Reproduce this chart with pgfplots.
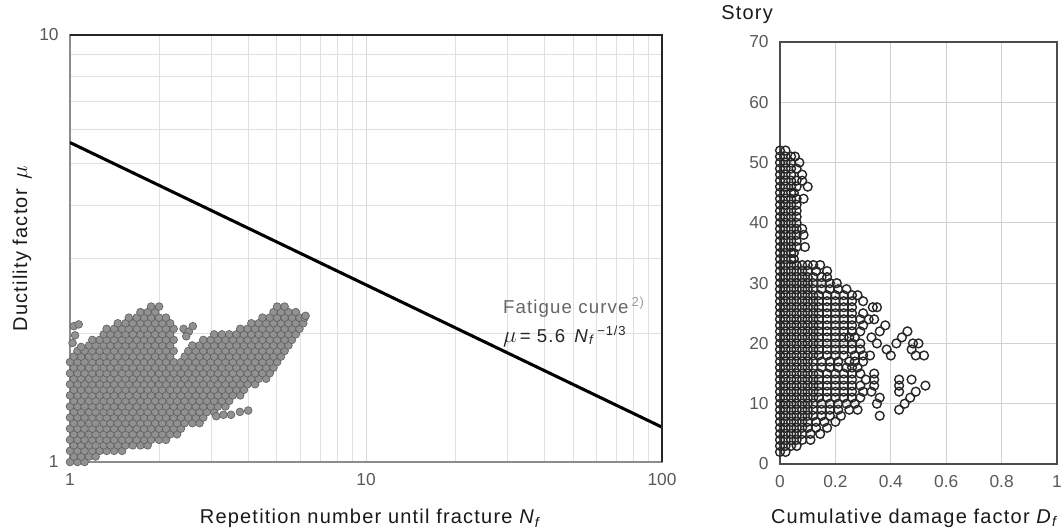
\documentclass[border=0pt]{standalone}
\usepackage{pgfplots}
\pgfplotsset{compat=1.18}
\usepackage{fontspec}
\setmainfont{Liberation Sans}
\newfontfamily\lblfont{Liberation Sans}[LetterSpace=6]
\begin{document}
\begin{tikzpicture}
\path[use as bounding box] (0,0) rectangle (798pt,399pt);
\pgfplotsset{
  lpt/.style={only marks, mark=*, mark size=2.9pt, mark options={fill=black!43, draw=black!62, line width=0.5pt}},
  rpt/.style={only marks, mark=o, mark size=3.3pt, mark options={draw=black!85, line width=1.05pt}},
}
\begin{axis}[
  name=L,
  at={(52.5pt,52.5pt)}, anchor=south west, scale only axis,
  width=444pt, height=320.25pt,
  xmode=log, ymode=log, xmin=1, xmax=100, ymin=1, ymax=10,
  xtick={1,10,100}, xticklabels={1,10,100},
  ytick={1,10}, yticklabels={1,10},
  grid=both,
  major grid style={draw=black!15, line width=0.6pt},
  minor grid style={draw=black!12, line width=0.6pt},
  tick style={draw=none},
  axis line style={draw=black!45, line width=0.9pt},
  ticklabel style={font=\fontsize{13}{15}\selectfont, text=black!65},
  xticklabel style={yshift=-5pt}, yticklabel style={xshift=-5pt},
  every axis x label/.style={at={(rel axis cs:0.508,-0.133)}, anchor=center},
  every axis y label/.style={at={(rel axis cs:-0.081,0.5)}, rotate=90, anchor=center},
  label style={font=\lblfont\fontsize{15}{17}\selectfont, text=black!90},
  xlabel={Repetition number until fracture \textit{N}\textsubscript{\textit{f}}},
  ylabel={Ductility factor \,{\fontsize{19}{19}\selectfont$\mu$}},
]
\addplot[lpt] coordinates {(1.00,1.000)(1.06,1.000)(1.12,1.000)};
\addplot[lpt] coordinates {(1.03,1.030)(1.09,1.030)(1.16,1.030)(1.22,1.030)};
\addplot[lpt] coordinates {(1.00,1.062)(1.06,1.062)(1.12,1.062)(1.19,1.062)(1.26,1.062)(1.33,1.062)(1.41,1.062)(1.50,1.062)};
\addplot[lpt] coordinates {(1.03,1.094)(1.09,1.094)(1.16,1.094)(1.22,1.094)(1.30,1.094)(1.37,1.094)(1.45,1.094)(1.54,1.094)(1.63,1.094)(1.73,1.094)(1.83,1.094)};
\addplot[lpt] coordinates {(1.00,1.127)(1.06,1.127)(1.12,1.127)(1.19,1.127)(1.26,1.127)(1.33,1.127)(1.41,1.127)(1.50,1.127)(1.58,1.127)(1.68,1.127)(1.78,1.127)(1.88,1.127)(2.00,1.127)(2.11,1.127)};
\addplot[lpt] coordinates {(1.03,1.161)(1.09,1.161)(1.16,1.161)(1.22,1.161)(1.30,1.161)(1.37,1.161)(1.45,1.161)(1.54,1.161)(1.63,1.161)(1.73,1.161)(1.83,1.161)(1.94,1.161)(2.05,1.161)(2.18,1.161)(2.30,1.161)};
\addplot[lpt] coordinates {(1.00,1.197)(1.06,1.197)(1.12,1.197)(1.19,1.197)(1.26,1.197)(1.33,1.197)(1.41,1.197)(1.50,1.197)(1.58,1.197)(1.68,1.197)(1.78,1.197)(1.88,1.197)(2.00,1.197)(2.11,1.197)(2.24,1.197)(2.37,1.197)};
\addplot[lpt] coordinates {(1.03,1.233)(1.09,1.233)(1.16,1.233)(1.22,1.233)(1.30,1.233)(1.37,1.233)(1.45,1.233)(1.54,1.233)(1.63,1.233)(1.73,1.233)(1.83,1.233)(1.94,1.233)(2.05,1.233)(2.18,1.233)(2.30,1.233)(2.44,1.233)(2.59,1.233)(2.74,1.233)};
\addplot[lpt] coordinates {(1.00,1.271)(1.06,1.271)(1.12,1.271)(1.19,1.271)(1.26,1.271)(1.33,1.271)(1.41,1.271)(1.50,1.271)(1.58,1.271)(1.68,1.271)(1.78,1.271)(1.88,1.271)(2.00,1.271)(2.11,1.271)(2.24,1.271)(2.37,1.271)(2.51,1.271)(2.66,1.271)(2.82,1.271)};
\addplot[lpt] coordinates {(1.03,1.309)(1.09,1.309)(1.16,1.309)(1.22,1.309)(1.30,1.309)(1.37,1.309)(1.45,1.309)(1.54,1.309)(1.63,1.309)(1.73,1.309)(1.83,1.309)(1.94,1.309)(2.05,1.309)(2.18,1.309)(2.30,1.309)(2.44,1.309)(2.59,1.309)(2.74,1.309)(2.90,1.309)(3.07,1.309)};
\addplot[lpt] coordinates {(1.00,1.349)(1.06,1.349)(1.12,1.349)(1.19,1.349)(1.26,1.349)(1.33,1.349)(1.41,1.349)(1.50,1.349)(1.58,1.349)(1.68,1.349)(1.78,1.349)(1.88,1.349)(2.00,1.349)(2.11,1.349)(2.24,1.349)(2.37,1.349)(2.51,1.349)(2.66,1.349)(2.82,1.349)(2.99,1.349)(3.16,1.349)(3.35,1.349)};
\addplot[lpt] coordinates {(1.03,1.390)(1.09,1.390)(1.16,1.390)(1.22,1.390)(1.30,1.390)(1.37,1.390)(1.45,1.390)(1.54,1.390)(1.63,1.390)(1.73,1.390)(1.83,1.390)(1.94,1.390)(2.05,1.390)(2.18,1.390)(2.30,1.390)(2.44,1.390)(2.59,1.390)(2.74,1.390)(2.90,1.390)(3.07,1.390)(3.26,1.390)(3.45,1.390)};
\addplot[lpt] coordinates {(1.00,1.432)(1.06,1.432)(1.12,1.432)(1.19,1.432)(1.26,1.432)(1.33,1.432)(1.41,1.432)(1.50,1.432)(1.58,1.432)(1.68,1.432)(1.78,1.432)(1.88,1.432)(2.00,1.432)(2.11,1.432)(2.24,1.432)(2.37,1.432)(2.51,1.432)(2.66,1.432)(2.82,1.432)(2.99,1.432)(3.16,1.432)(3.35,1.432)(3.55,1.432)(3.76,1.432)};
\addplot[lpt] coordinates {(1.03,1.476)(1.09,1.476)(1.16,1.476)(1.22,1.476)(1.30,1.476)(1.37,1.476)(1.45,1.476)(1.54,1.476)(1.63,1.476)(1.73,1.476)(1.83,1.476)(1.94,1.476)(2.05,1.476)(2.18,1.476)(2.30,1.476)(2.44,1.476)(2.59,1.476)(2.74,1.476)(2.90,1.476)(3.07,1.476)(3.26,1.476)(3.45,1.476)(3.65,1.476)(3.87,1.476)};
\addplot[lpt] coordinates {(1.00,1.521)(1.06,1.521)(1.12,1.521)(1.19,1.521)(1.26,1.521)(1.33,1.521)(1.41,1.521)(1.50,1.521)(1.58,1.521)(1.68,1.521)(1.78,1.521)(1.88,1.521)(2.00,1.521)(2.11,1.521)(2.24,1.521)(2.37,1.521)(2.51,1.521)(2.66,1.521)(2.82,1.521)(2.99,1.521)(3.16,1.521)(3.35,1.521)(3.55,1.521)(3.76,1.521)(3.98,1.521)(4.22,1.521)};
\addplot[lpt] coordinates {(1.03,1.567)(1.09,1.567)(1.16,1.567)(1.22,1.567)(1.30,1.567)(1.37,1.567)(1.45,1.567)(1.54,1.567)(1.63,1.567)(1.73,1.567)(1.83,1.567)(1.94,1.567)(2.05,1.567)(2.18,1.567)(2.30,1.567)(2.44,1.567)(2.59,1.567)(2.74,1.567)(2.90,1.567)(3.07,1.567)(3.26,1.567)(3.45,1.567)(3.65,1.567)(3.87,1.567)(4.10,1.567)(4.34,1.567)(4.60,1.567)};
\addplot[lpt] coordinates {(1.00,1.614)(1.06,1.614)(1.12,1.614)(1.19,1.614)(1.26,1.614)(1.33,1.614)(1.41,1.614)(1.50,1.614)(1.58,1.614)(1.68,1.614)(1.78,1.614)(1.88,1.614)(2.00,1.614)(2.11,1.614)(2.24,1.614)(2.37,1.614)(2.51,1.614)(2.66,1.614)(2.82,1.614)(2.99,1.614)(3.16,1.614)(3.35,1.614)(3.55,1.614)(3.76,1.614)(3.98,1.614)(4.22,1.614)(4.47,1.614)(4.73,1.614)};
\addplot[lpt] coordinates {(1.03,1.663)(1.09,1.663)(1.16,1.663)(1.22,1.663)(1.30,1.663)(1.37,1.663)(1.45,1.663)(1.54,1.663)(1.63,1.663)(1.73,1.663)(1.83,1.663)(1.94,1.663)(2.05,1.663)(2.18,1.663)(2.30,1.663)(2.44,1.663)(2.59,1.663)(2.74,1.663)(2.90,1.663)(3.07,1.663)(3.26,1.663)(3.45,1.663)(3.65,1.663)(3.87,1.663)(4.10,1.663)(4.34,1.663)(4.60,1.663)(4.87,1.663)};
\addplot[lpt] coordinates {(1.00,1.714)(1.06,1.714)(1.12,1.714)(1.19,1.714)(1.26,1.714)(1.33,1.714)(1.41,1.714)(1.50,1.714)(1.58,1.714)(1.68,1.714)(1.78,1.714)(1.88,1.714)(2.00,1.714)(2.11,1.714)(2.24,1.714)(2.37,1.714)(2.51,1.714)(2.66,1.714)(2.82,1.714)(2.99,1.714)(3.16,1.714)(3.35,1.714)(3.55,1.714)(3.76,1.714)(3.98,1.714)(4.22,1.714)(4.47,1.714)(4.73,1.714)(5.01,1.714)};
\addplot[lpt] coordinates {(1.03,1.766)(1.09,1.766)(1.16,1.766)(1.22,1.766)(1.30,1.766)(1.37,1.766)(1.45,1.766)(1.54,1.766)(1.63,1.766)(1.73,1.766)(1.83,1.766)(1.94,1.766)(2.05,1.766)(2.18,1.766)(2.44,1.766)(2.59,1.766)(2.74,1.766)(2.90,1.766)(3.07,1.766)(3.26,1.766)(3.45,1.766)(3.65,1.766)(3.87,1.766)(4.10,1.766)(4.34,1.766)(4.60,1.766)(4.87,1.766)(5.16,1.766)};
\addplot[lpt] coordinates {(1.06,1.820)(1.12,1.820)(1.19,1.820)(1.26,1.820)(1.33,1.820)(1.41,1.820)(1.50,1.820)(1.58,1.820)(1.68,1.820)(1.78,1.820)(1.88,1.820)(2.00,1.820)(2.11,1.820)(2.24,1.820)(2.51,1.820)(2.66,1.820)(2.82,1.820)(2.99,1.820)(3.16,1.820)(3.35,1.820)(3.55,1.820)(3.76,1.820)(3.98,1.820)(4.22,1.820)(4.47,1.820)(4.73,1.820)(5.01,1.820)(5.31,1.820)};
\addplot[lpt] coordinates {(1.16,1.875)(1.22,1.875)(1.30,1.875)(1.37,1.875)(1.45,1.875)(1.54,1.875)(1.63,1.875)(1.73,1.875)(1.83,1.875)(1.94,1.875)(2.05,1.875)(2.18,1.875)(2.59,1.875)(2.74,1.875)(2.90,1.875)(3.07,1.875)(3.26,1.875)(3.45,1.875)(3.65,1.875)(3.87,1.875)(4.10,1.875)(4.34,1.875)(4.60,1.875)(4.87,1.875)(5.16,1.875)(5.47,1.875)};
\addplot[lpt] coordinates {(1.19,1.932)(1.26,1.932)(1.33,1.932)(1.41,1.932)(1.50,1.932)(1.58,1.932)(1.68,1.932)(1.78,1.932)(1.88,1.932)(2.00,1.932)(2.11,1.932)(2.24,1.932)(2.82,1.932)(2.99,1.932)(3.16,1.932)(3.35,1.932)(3.55,1.932)(3.76,1.932)(3.98,1.932)(4.22,1.932)(4.47,1.932)(4.73,1.932)(5.01,1.932)(5.31,1.932)(5.62,1.932)};
\addplot[lpt] coordinates {(1.30,1.991)(1.37,1.991)(1.45,1.991)(1.54,1.991)(1.63,1.991)(1.73,1.991)(1.83,1.991)(1.94,1.991)(2.05,1.991)(2.18,1.991)(3.07,1.991)(3.26,1.991)(3.45,1.991)(3.65,1.991)(3.87,1.991)(4.10,1.991)(4.34,1.991)(4.60,1.991)(4.87,1.991)(5.16,1.991)(5.47,1.991)(5.79,1.991)};
\addplot[lpt] coordinates {(1.33,2.051)(1.41,2.051)(1.50,2.051)(1.58,2.051)(1.68,2.051)(1.78,2.051)(1.88,2.051)(2.00,2.051)(2.11,2.051)(2.24,2.051)(3.76,2.051)(3.98,2.051)(4.22,2.051)(4.47,2.051)(4.73,2.051)(5.01,2.051)(5.31,2.051)(5.62,2.051)(5.96,2.051)};
\addplot[lpt] coordinates {(1.45,2.113)(1.54,2.113)(1.63,2.113)(1.73,2.113)(1.83,2.113)(1.94,2.113)(2.05,2.113)(2.18,2.113)(4.10,2.113)(4.34,2.113)(4.60,2.113)(4.87,2.113)(5.16,2.113)(5.47,2.113)(5.79,2.113)(6.14,2.113)};
\addplot[lpt] coordinates {(1.58,2.178)(1.68,2.178)(1.78,2.178)(1.88,2.178)(2.00,2.178)(2.11,2.178)(4.47,2.178)(4.73,2.178)(5.01,2.178)(5.31,2.178)(5.62,2.178)(5.96,2.178)(6.20,2.178)};
\addplot[lpt] coordinates {(1.73,2.244)(1.83,2.244)(1.94,2.244)(4.87,2.244)(5.16,2.244)(5.47,2.244)(5.79,2.244)};
\addplot[lpt] coordinates {(1.88,2.312)(2.00,2.312)(5.01,2.312)(5.31,2.312)};
\addplot[lpt] coordinates {(1.03,2.08)(1.07,2.10)(1.04,1.98)(1.02,1.90)(1.09,1.86)(2.42,2.05)(2.52,2.02)(2.60,2.08)(2.47,1.97)(3.12,1.28)(3.30,1.29)(3.50,1.29)(3.75,1.31)(4.00,1.32)(6.25,2.20)};
\addplot[black, line width=2.3pt] coordinates {(1,5.6) (100,1.2066)};
\node[anchor=base west, text=black!60, font=\lblfont\fontsize{14}{16}\selectfont] at (axis cs:28.0,2.222) {Fatigue curve\,\textsuperscript{\textcolor{black!40}{2)}}};
\node[anchor=base west, text=black!85, font=\lblfont\fontsize{14}{16}\selectfont] at (axis cs:28.0,1.91) {{\fontsize{18}{18}\selectfont$\mu$}\,= 5.6\enspace\textit{N}\textsubscript{\textit{f}}\textsuperscript{\,−1/3}};
\end{axis}
\draw[black!85, line width=0.9pt] (L.north west) -- (L.north east) -- (L.south east);
\begin{axis}[
  name=R,
  at={(585pt,51pt)}, anchor=south west, scale only axis,
  width=207.75pt, height=316.5pt,
  xmin=0, xmax=1, ymin=0, ymax=70,
  xtick={0,0.2,0.4,0.6,0.8,1}, ytick={0,10,20,30,40,50,60,70},
  grid=major, major grid style={draw=black!18, line width=0.8pt},
  tick style={draw=none},
  axis line style={draw=black!70, line width=0.9pt},
  /pgf/number format/assume math mode=true,
  ticklabel style={font=\fontsize{13}{15}\selectfont, text=black!65},
  xticklabel style={yshift=-5pt}, yticklabel style={xshift=-5pt},
  clip=false,
  every axis x label/.style={at={(rel axis cs:0.487,-0.128)}, anchor=center},
  every axis y label/.style={at={(rel axis cs:-0.119,1.064)}, anchor=center},
  label style={font=\lblfont\fontsize{15}{17}\selectfont, text=black!90},
  xlabel={Cumulative damage factor \textit{D}\textsubscript{\textit{f}}},
  ylabel={Story},
]
\addplot[rpt] coordinates {(0,2)(0.02,2)};
\addplot[rpt] coordinates {(0,3)(0.02,3)(0.04,3)(0.06,3)};
\addplot[rpt] coordinates {(0,4)(0.02,4)(0.04,4)(0.06,4)(0.08,4)(0.11,4)};
\addplot[rpt] coordinates {(0,5)(0.02,5)(0.04,5)(0.06,5)(0.08,5)(0.11,5)(0.145,5)};
\addplot[rpt] coordinates {(0,6)(0.02,6)(0.04,6)(0.06,6)(0.08,6)(0.10,6)(0.13,6)(0.17,6)};
\addplot[rpt] coordinates {(0,7)(0.02,7)(0.04,7)(0.06,7)(0.08,7)(0.10,7)(0.13,7)(0.16,7)(0.20,7)};
\addplot[rpt] coordinates {(0,8)(0.02,8)(0.04,8)(0.06,8)(0.08,8)(0.10,8)(0.12,8)(0.15,8)(0.18,8)(0.22,8)(0.36,8)};
\addplot[rpt] coordinates {(0,9)(0.02,9)(0.04,9)(0.06,9)(0.08,9)(0.10,9)(0.12,9)(0.15,9)(0.18,9)(0.21,9)(0.25,9)(0.28,9)(0.43,9)};
\addplot[rpt] coordinates {(0,10)(0.02,10)(0.04,10)(0.06,10)(0.08,10)(0.10,10)(0.12,10)(0.15,10)(0.18,10)(0.21,10)(0.24,10)(0.27,10)(0.35,10)(0.45,10)};
\addplot[rpt] coordinates {(0,11)(0.02,11)(0.04,11)(0.06,11)(0.08,11)(0.10,11)(0.12,11)(0.14,11)(0.17,11)(0.20,11)(0.23,11)(0.26,11)(0.29,11)(0.36,11)(0.47,11)};
\addplot[rpt] coordinates {(0,12)(0.02,12)(0.04,12)(0.06,12)(0.08,12)(0.10,12)(0.12,12)(0.14,12)(0.17,12)(0.20,12)(0.23,12)(0.26,12)(0.30,12)(0.33,12)(0.43,12)(0.49,12)};
\addplot[rpt] coordinates {(0,13)(0.02,13)(0.04,13)(0.06,13)(0.08,13)(0.10,13)(0.12,13)(0.14,13)(0.17,13)(0.20,13)(0.23,13)(0.26,13)(0.29,13)(0.34,13)(0.43,13)(0.525,13)};
\addplot[rpt] coordinates {(0,14)(0.02,14)(0.04,14)(0.06,14)(0.08,14)(0.10,14)(0.12,14)(0.14,14)(0.17,14)(0.20,14)(0.23,14)(0.26,14)(0.31,14)(0.34,14)(0.43,14)(0.475,14)};
\addplot[rpt] coordinates {(0,15)(0.02,15)(0.04,15)(0.06,15)(0.08,15)(0.10,15)(0.12,15)(0.14,15)(0.17,15)(0.20,15)(0.23,15)(0.26,15)(0.29,15)(0.34,15)};
\addplot[rpt] coordinates {(0,16)(0.02,16)(0.04,16)(0.06,16)(0.08,16)(0.10,16)(0.12,16)(0.15,16)(0.18,16)(0.21,16)(0.24,16)(0.26,16)(0.28,16)};
\addplot[rpt] coordinates {(0,17)(0.02,17)(0.04,17)(0.06,17)(0.08,17)(0.10,17)(0.12,17)(0.15,17)(0.18,17)(0.21,17)(0.25,17)(0.27,17)(0.30,17)};
\addplot[rpt] coordinates {(0,18)(0.02,18)(0.04,18)(0.06,18)(0.08,18)(0.10,18)(0.12,18)(0.14,18)(0.17,18)(0.20,18)(0.23,18)(0.27,18)(0.30,18)(0.325,18)(0.40,18)(0.49,18)(0.52,18)};
\addplot[rpt] coordinates {(0,19)(0.02,19)(0.04,19)(0.06,19)(0.08,19)(0.10,19)(0.12,19)(0.14,19)(0.17,19)(0.20,19)(0.23,19)(0.26,19)(0.29,19)(0.385,19)(0.475,19)};
\addplot[rpt] coordinates {(0,20)(0.02,20)(0.04,20)(0.06,20)(0.08,20)(0.10,20)(0.12,20)(0.14,20)(0.17,20)(0.20,20)(0.23,20)(0.26,20)(0.29,20)(0.35,20)(0.42,20)(0.48,20)(0.50,20)};
\addplot[rpt] coordinates {(0,21)(0.02,21)(0.04,21)(0.06,21)(0.08,21)(0.10,21)(0.12,21)(0.14,21)(0.17,21)(0.20,21)(0.23,21)(0.25,21)(0.27,21)(0.33,21)(0.44,21)};
\addplot[rpt] coordinates {(0,22)(0.02,22)(0.04,22)(0.06,22)(0.08,22)(0.10,22)(0.12,22)(0.14,22)(0.17,22)(0.20,22)(0.23,22)(0.26,22)(0.29,22)(0.36,22)(0.46,22)};
\addplot[rpt] coordinates {(0,23)(0.02,23)(0.04,23)(0.06,23)(0.08,23)(0.10,23)(0.12,23)(0.14,23)(0.17,23)(0.20,23)(0.23,23)(0.26,23)(0.30,23)(0.38,23)};
\addplot[rpt] coordinates {(0,24)(0.02,24)(0.04,24)(0.06,24)(0.08,24)(0.10,24)(0.12,24)(0.14,24)(0.17,24)(0.20,24)(0.23,24)(0.26,24)(0.29,24)(0.32,24)(0.34,24)};
\addplot[rpt] coordinates {(0,25)(0.02,25)(0.04,25)(0.06,25)(0.08,25)(0.10,25)(0.12,25)(0.14,25)(0.17,25)(0.20,25)(0.23,25)(0.26,25)(0.30,25)};
\addplot[rpt] coordinates {(0,26)(0.02,26)(0.04,26)(0.06,26)(0.08,26)(0.10,26)(0.12,26)(0.14,26)(0.17,26)(0.20,26)(0.23,26)(0.26,26)(0.335,26)(0.35,26)};
\addplot[rpt] coordinates {(0,27)(0.02,27)(0.04,27)(0.06,27)(0.08,27)(0.10,27)(0.12,27)(0.14,27)(0.17,27)(0.20,27)(0.23,27)(0.26,27)(0.30,27)};
\addplot[rpt] coordinates {(0,28)(0.02,28)(0.04,28)(0.06,28)(0.08,28)(0.10,28)(0.12,28)(0.14,28)(0.17,28)(0.20,28)(0.23,28)(0.26,28)(0.28,28)};
\addplot[rpt] coordinates {(0,29)(0.02,29)(0.04,29)(0.06,29)(0.08,29)(0.10,29)(0.12,29)(0.15,29)(0.18,29)(0.21,29)(0.24,29)};
\addplot[rpt] coordinates {(0,30)(0.02,30)(0.04,30)(0.06,30)(0.08,30)(0.10,30)(0.12,30)(0.15,30)(0.18,30)(0.205,30)};
\addplot[rpt] coordinates {(0,31)(0.02,31)(0.04,31)(0.06,31)(0.08,31)(0.10,31)(0.12,31)(0.15,31)(0.17,31)};
\addplot[rpt] coordinates {(0,32)(0.02,32)(0.04,32)(0.06,32)(0.08,32)(0.10,32)(0.13,32)(0.17,32)};
\addplot[rpt] coordinates {(0,33)(0.02,33)(0.04,33)(0.06,33)(0.08,33)(0.10,33)(0.12,33)(0.145,33)};
\addplot[rpt] coordinates {(0,34)(0.02,34)(0.04,34)(0.05,34)};
\addplot[rpt] coordinates {(0,35)(0.02,35)(0.04,35)(0.05,35)};
\addplot[rpt] coordinates {(0,36)(0.02,36)(0.04,36)(0.06,36)(0.09,36)};
\addplot[rpt] coordinates {(0,37)(0.02,37)(0.04,37)(0.06,37)};
\addplot[rpt] coordinates {(0,38)(0.02,38)(0.04,38)(0.06,38)(0.085,38)};
\addplot[rpt] coordinates {(0,39)(0.02,39)(0.04,39)(0.06,39)(0.08,39)};
\addplot[rpt] coordinates {(0,40)(0.02,40)(0.04,40)(0.06,40)};
\addplot[rpt] coordinates {(0,41)(0.02,41)(0.04,41)(0.06,41)};
\addplot[rpt] coordinates {(0,42)(0.02,42)(0.04,42)(0.06,42)};
\addplot[rpt] coordinates {(0,43)(0.02,43)(0.04,43)(0.06,43)};
\addplot[rpt] coordinates {(0,44)(0.02,44)(0.04,44)(0.06,44)(0.085,44)};
\addplot[rpt] coordinates {(0,45)(0.02,45)(0.04,45)(0.05,45)};
\addplot[rpt] coordinates {(0,46)(0.02,46)(0.04,46)(0.06,46)(0.10,46)};
\addplot[rpt] coordinates {(0,47)(0.02,47)(0.04,47)(0.06,47)(0.08,47)};
\addplot[rpt] coordinates {(0,48)(0.02,48)(0.04,48)(0.08,48)};
\addplot[rpt] coordinates {(0,49)(0.02,49)(0.04,49)(0.06,49)};
\addplot[rpt] coordinates {(0,50)(0.02,50)(0.04,50)(0.07,50)};
\addplot[rpt] coordinates {(0,51)(0.02,51)(0.04,51)(0.054,51)};
\addplot[rpt] coordinates {(0,52)(0.02,52)};
\end{axis}
\end{tikzpicture}
\end{document}
